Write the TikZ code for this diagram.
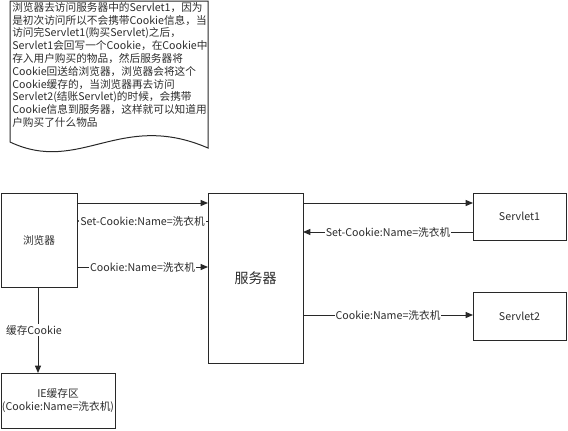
\documentclass[tikz,border=0pt]{standalone}
\usepackage{fontspec}
\setmainfont{Noto Sans CJK SC}
\usepackage{tikz}
\usetikzlibrary{arrows.meta,positioning,calc}
\definecolor{boxline}{RGB}{40,40,40}
\definecolor{txtgray}{RGB}{45,45,45}
\tikzset{
  box/.style={draw=boxline,line width=0.75pt,fill=white,anchor=north west,
              inner sep=0pt,outer sep=0pt,text=txtgray,
              font=\fontsize{8}{9.5}\selectfont,align=center},
  arr/.style={-{Triangle[length=5.5pt,width=4.5pt]},line width=0.75pt,color=boxline},
  lbl/.style={font=\fontsize{8}{9}\selectfont,text=txtgray,fill=white,
              inner sep=0.8pt},
}
\begin{document}
\begin{tikzpicture}[x=0.75pt,y=-0.75pt]
\useasboundingbox (0,0) rectangle (568,430);
% note with wavy bottom
\draw[draw=boxline,line width=0.75pt] (10,1) -- (208,1) -- (208,148)
  .. controls (120,110) and (80,175) .. (10,142) -- cycle;
\node[anchor=north west,align=left,inner sep=0pt,text=txtgray,
      font=\fontsize{8}{9.6}\selectfont] (note) at (12,2) {%
浏览器去访问服务器中的Servlet1，因为\\
是初次访问所以不会携带Cookie信息，当\\
访问完Servlet1(购买Servlet)之后，\\
Servlet1会回写一个Cookie，在Cookie中\\
存入用户购买的物品，然后服务器将\\
Cookie回送给浏览器，浏览器会将这个\\
Cookie缓存的，当浏览器再去访问\\
Servlet2(结账Servlet)的时候，会携带\\
Cookie信息到服务器，这样就可以知道用\\
户购买了什么物品};

\node[box,minimum width=57pt,minimum height=70.5pt] (browser) at (1,193) {浏览器};
\node[box,minimum width=71.25pt,minimum height=127.5pt,
      font=\fontsize{10.5}{12}\selectfont] (server) at (208,193) {服务器};
\node[box,minimum width=69.75pt,minimum height=35.25pt] (servlet1) at (473,193) {Servlet1};
\node[box,minimum width=69.75pt,minimum height=36pt] (servlet2) at (473,292) {Servlet2};
\node[box,minimum width=85.5pt,minimum height=41.25pt] (cache) at (1,373)
  {IE缓存区\\(Cookie:Name=洗衣机)};

\draw[arr] (browser.east |- 0,203) -- (server.west |- 0,203);
\draw[arr] (server.west |- 0,221) -- node[lbl]{Set-Cookie:Name=洗衣机} (browser.east |- 0,221);
\draw[arr] (browser.east |- 0,267) -- node[lbl]{Cookie:Name=洗衣机} (server.west |- 0,267);
\draw[arr] (server.east |- 0,203) -- (servlet1.west |- 0,203);
\draw[arr] (servlet1.west |- 0,232) -- node[lbl]{Set-Cookie:Name=洗衣机} (server.east |- 0,232);
\draw[arr] (server.east |- 0,315) -- node[lbl]{Cookie:Name=洗衣机} (servlet2.west |- 0,315);
\draw[arr] (browser.south -| 38,0) -- node[lbl,xshift=-3pt]{缓存Cookie} (cache.north -| 38,0);
\end{tikzpicture}
\end{document}
